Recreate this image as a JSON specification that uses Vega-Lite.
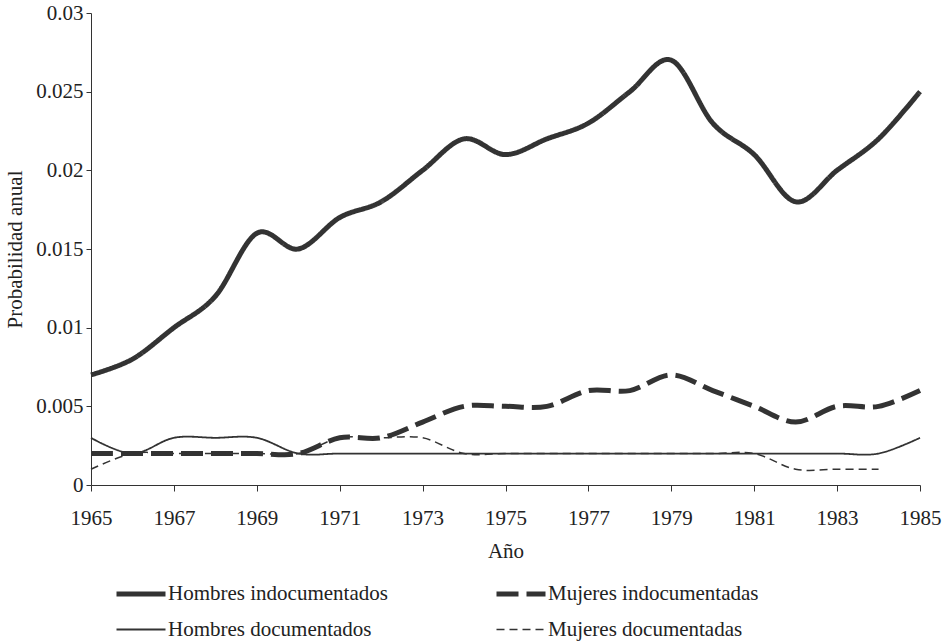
{
  "$schema": "https://vega.github.io/schema/vega-lite/v6.json",
  "width": 829,
  "height": 472,
  "autosize": "none",
  "padding": {"left": 91, "top": 13, "right": 23, "bottom": 159},
  "background": "white",
  "config": {
    "view": {"stroke": null},
    "font": "Liberation Serif",
    "axis": {"labelFont": "Liberation Serif", "titleFont": "Liberation Serif", "labelFontSize": 21, "titleFontSize": 21, "titleFontWeight": "normal", "labelColor": "#222", "titleColor": "#222", "domainColor": "#333", "tickColor": "#333", "grid": false}
  },
  "data": {"values": [
    {"year": 1965, "s": "Hombres indocumentados", "p": 0.007},
    {"year": 1966, "s": "Hombres indocumentados", "p": 0.008},
    {"year": 1967, "s": "Hombres indocumentados", "p": 0.010},
    {"year": 1968, "s": "Hombres indocumentados", "p": 0.012},
    {"year": 1969, "s": "Hombres indocumentados", "p": 0.016},
    {"year": 1970, "s": "Hombres indocumentados", "p": 0.015},
    {"year": 1971, "s": "Hombres indocumentados", "p": 0.017},
    {"year": 1972, "s": "Hombres indocumentados", "p": 0.018},
    {"year": 1973, "s": "Hombres indocumentados", "p": 0.020},
    {"year": 1974, "s": "Hombres indocumentados", "p": 0.022},
    {"year": 1975, "s": "Hombres indocumentados", "p": 0.021},
    {"year": 1976, "s": "Hombres indocumentados", "p": 0.022},
    {"year": 1977, "s": "Hombres indocumentados", "p": 0.023},
    {"year": 1978, "s": "Hombres indocumentados", "p": 0.025},
    {"year": 1979, "s": "Hombres indocumentados", "p": 0.027},
    {"year": 1980, "s": "Hombres indocumentados", "p": 0.023},
    {"year": 1981, "s": "Hombres indocumentados", "p": 0.021},
    {"year": 1982, "s": "Hombres indocumentados", "p": 0.018},
    {"year": 1983, "s": "Hombres indocumentados", "p": 0.020},
    {"year": 1984, "s": "Hombres indocumentados", "p": 0.022},
    {"year": 1985, "s": "Hombres indocumentados", "p": 0.025},
    {"year": 1965, "s": "Mujeres indocumentadas", "p": 0.002},
    {"year": 1966, "s": "Mujeres indocumentadas", "p": 0.002},
    {"year": 1967, "s": "Mujeres indocumentadas", "p": 0.002},
    {"year": 1968, "s": "Mujeres indocumentadas", "p": 0.002},
    {"year": 1969, "s": "Mujeres indocumentadas", "p": 0.002},
    {"year": 1970, "s": "Mujeres indocumentadas", "p": 0.002},
    {"year": 1971, "s": "Mujeres indocumentadas", "p": 0.003},
    {"year": 1972, "s": "Mujeres indocumentadas", "p": 0.003},
    {"year": 1973, "s": "Mujeres indocumentadas", "p": 0.004},
    {"year": 1974, "s": "Mujeres indocumentadas", "p": 0.005},
    {"year": 1975, "s": "Mujeres indocumentadas", "p": 0.005},
    {"year": 1976, "s": "Mujeres indocumentadas", "p": 0.005},
    {"year": 1977, "s": "Mujeres indocumentadas", "p": 0.006},
    {"year": 1978, "s": "Mujeres indocumentadas", "p": 0.006},
    {"year": 1979, "s": "Mujeres indocumentadas", "p": 0.007},
    {"year": 1980, "s": "Mujeres indocumentadas", "p": 0.006},
    {"year": 1981, "s": "Mujeres indocumentadas", "p": 0.005},
    {"year": 1982, "s": "Mujeres indocumentadas", "p": 0.004},
    {"year": 1983, "s": "Mujeres indocumentadas", "p": 0.005},
    {"year": 1984, "s": "Mujeres indocumentadas", "p": 0.005},
    {"year": 1985, "s": "Mujeres indocumentadas", "p": 0.006},
    {"year": 1965, "s": "Hombres documentados", "p": 0.003},
    {"year": 1966, "s": "Hombres documentados", "p": 0.002},
    {"year": 1967, "s": "Hombres documentados", "p": 0.003},
    {"year": 1968, "s": "Hombres documentados", "p": 0.003},
    {"year": 1969, "s": "Hombres documentados", "p": 0.003},
    {"year": 1970, "s": "Hombres documentados", "p": 0.002},
    {"year": 1971, "s": "Hombres documentados", "p": 0.002},
    {"year": 1972, "s": "Hombres documentados", "p": 0.002},
    {"year": 1973, "s": "Hombres documentados", "p": 0.002},
    {"year": 1974, "s": "Hombres documentados", "p": 0.002},
    {"year": 1975, "s": "Hombres documentados", "p": 0.002},
    {"year": 1976, "s": "Hombres documentados", "p": 0.002},
    {"year": 1977, "s": "Hombres documentados", "p": 0.002},
    {"year": 1978, "s": "Hombres documentados", "p": 0.002},
    {"year": 1979, "s": "Hombres documentados", "p": 0.002},
    {"year": 1980, "s": "Hombres documentados", "p": 0.002},
    {"year": 1981, "s": "Hombres documentados", "p": 0.002},
    {"year": 1982, "s": "Hombres documentados", "p": 0.002},
    {"year": 1983, "s": "Hombres documentados", "p": 0.002},
    {"year": 1984, "s": "Hombres documentados", "p": 0.002},
    {"year": 1985, "s": "Hombres documentados", "p": 0.003},
    {"year": 1965, "s": "Mujeres documentadas", "p": 0.001},
    {"year": 1966, "s": "Mujeres documentadas", "p": 0.002},
    {"year": 1967, "s": "Mujeres documentadas", "p": 0.002},
    {"year": 1968, "s": "Mujeres documentadas", "p": 0.002},
    {"year": 1969, "s": "Mujeres documentadas", "p": 0.002},
    {"year": 1970, "s": "Mujeres documentadas", "p": 0.002},
    {"year": 1971, "s": "Mujeres documentadas", "p": 0.003},
    {"year": 1972, "s": "Mujeres documentadas", "p": 0.003},
    {"year": 1973, "s": "Mujeres documentadas", "p": 0.003},
    {"year": 1974, "s": "Mujeres documentadas", "p": 0.002},
    {"year": 1975, "s": "Mujeres documentadas", "p": 0.002},
    {"year": 1976, "s": "Mujeres documentadas", "p": 0.002},
    {"year": 1977, "s": "Mujeres documentadas", "p": 0.002},
    {"year": 1978, "s": "Mujeres documentadas", "p": 0.002},
    {"year": 1979, "s": "Mujeres documentadas", "p": 0.002},
    {"year": 1980, "s": "Mujeres documentadas", "p": 0.002},
    {"year": 1981, "s": "Mujeres documentadas", "p": 0.002},
    {"year": 1982, "s": "Mujeres documentadas", "p": 0.001},
    {"year": 1983, "s": "Mujeres documentadas", "p": 0.001},
    {"year": 1984, "s": "Mujeres documentadas", "p": 0.001}
  ]},
  "mark": {"type": "line", "interpolate": "cardinal", "strokeCap": "butt"},
  "encoding": {
    "x": {"field": "year", "type": "quantitative",
      "scale": {"domain": [1965, 1985], "nice": false, "zero": false},
      "axis": {"values": [1965,1967,1969,1971,1973,1975,1977,1979,1981,1983,1985], "format": "d", "title": "Año", "titlePadding": 12, "labelPadding": 16, "tickSize": 6, "labelFlush": false}},
    "y": {"field": "p", "type": "quantitative",
      "scale": {"domain": [0, 0.03], "nice": false},
      "axis": {"values": [0,0.005,0.01,0.015,0.02,0.025,0.03], "format": ".3~f", "title": "Probabilidad anual", "titlePadding": 10, "tickSize": 5, "labelPadding": 3, "labelFlush": false}},
    "color": {"field": "s", "type": "nominal",
      "scale": {"domain": ["Hombres indocumentados", "Mujeres indocumentadas", "Hombres documentados", "Mujeres documentadas"], "range": ["#333333", "#333333", "#333333", "#333333"]},
      "legend": {"orient": "none", "legendX": 23, "legendY": 554, "columns": 2, "direction": "horizontal", "title": null, "symbolType": "stroke", "symbolSize": 2401, "labelFont": "Liberation Serif", "labelFontSize": 21, "labelColor": "#222", "labelLimit": 400, "columnPadding": 98, "rowPadding": 0, "labelOffset": 0}},
    "strokeDash": {"field": "s", "type": "nominal",
      "scale": {"domain": ["Hombres indocumentados", "Mujeres indocumentadas", "Hombres documentados", "Mujeres documentadas"], "range": [[1,0], [22,8], [1,0], [8,5]]}},
    "strokeWidth": {"field": "s", "type": "nominal",
      "scale": {"type": "ordinal", "domain": ["Hombres indocumentados", "Mujeres indocumentadas", "Hombres documentados", "Mujeres documentadas"], "range": [5, 5, 1.8, 1.5]}}
  }
}
